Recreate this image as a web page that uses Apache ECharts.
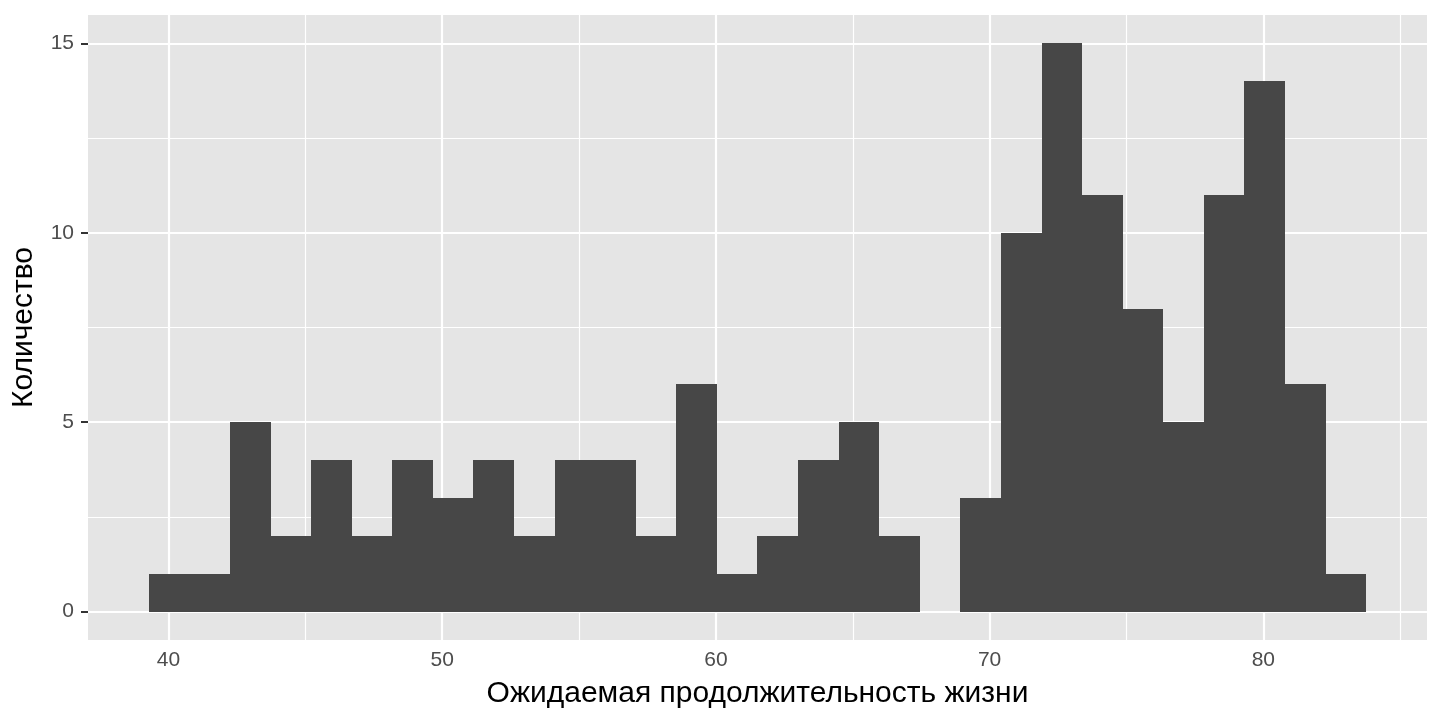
<!DOCTYPE html>
<html>
<head>
<meta charset="utf-8">
<script src="https://cdn.jsdelivr.net/npm/echarts@6/dist/echarts.min.js"></script>
<style>
html,body{margin:0;padding:0;background:#fff;}
#chart{width:1440px;height:720px;}
</style>
</head>
<body>
<div id="chart"></div>
<script>
// Histogram data (30 bins, gapminder 2007 life expectancy)
const binStart = 39.2836;
const binWidth = 1.4824;
const counts = [1, 1, 5, 2, 4, 2, 4, 3, 4, 2, 4, 4, 2, 6, 1, 2, 4, 5, 2, 0, 3, 10, 15, 11, 8, 5, 11, 14, 6, 1];
const xTicks = [40, 50, 60, 70, 80];
const xMinor = [45, 55, 65, 75, 85];
const yTicks = [0, 5, 10, 15];
const yMinor = [2.5, 7.5, 12.5];
const xTitle = 'Ожидаемая продолжительность жизни';
const yTitle = 'Количество';

const xMin = 37.06, xMax = 85.98, yMin = -0.75, yMax = 15.75;

const bins = counts.map((c, i) => [binStart + i * binWidth, binStart + (i + 1) * binWidth, c]);

function lineData(vals, key, width) {
  return vals.map(v => ({ [key]: v, lineStyle: { color: '#fff', width: width, type: 'solid' } }));
}

const chart = echarts.init(document.getElementById('chart'));
chart.setOption({
  animation: false,
  backgroundColor: '#ffffff',
  textStyle: { fontFamily: 'Liberation Sans, Arial, sans-serif' },
  grid: { left: 88, right: 13, top: 15, bottom: 80, show: true, backgroundColor: '#E5E5E5', borderWidth: 0 },
  xAxis: {
    type: 'value', min: xMin, max: xMax,
    name: xTitle, nameLocation: 'middle', nameGap: 39,
    nameTextStyle: { color: '#000', fontSize: 30, fontFamily: 'Liberation Sans' },
    axisLine: { show: false },
    splitLine: { show: false },
    axisTick: { show: true, length: 7, customValues: xTicks, lineStyle: { color: '#333', width: 2 } },
    axisLabel: { customValues: xTicks, color: '#4D4D4D', fontSize: 21, margin: 10, fontFamily: 'Liberation Sans' }
  },
  yAxis: {
    type: 'value', min: yMin, max: yMax,
    name: yTitle, nameLocation: 'middle', nameGap: 49, nameRotate: 90,
    nameTextStyle: { color: '#000', fontSize: 30, fontFamily: 'Liberation Sans' },
    axisLine: { show: false },
    splitLine: { show: false },
    axisTick: { show: true, length: 7, customValues: yTicks, lineStyle: { color: '#333', width: 2 } },
    axisLabel: { customValues: yTicks, color: '#4D4D4D', fontSize: 21, margin: 14, fontFamily: 'Liberation Sans' }
  },
  series: [
    {
      type: 'line', data: [], z: 1, silent: true,
      markLine: {
        silent: true, symbol: 'none', animation: false,
        label: { show: false },
        data: [
          ...lineData(xMinor, 'xAxis', 1.2),
          ...lineData(yMinor, 'yAxis', 1.2),
          ...lineData(xTicks, 'xAxis', 2.2),
          ...lineData(yTicks, 'yAxis', 2.2)
        ]
      }
    },
    {
      type: 'custom', z: 5,
      data: bins,
      encode: { x: [0, 1], y: 2 },
      renderItem: function (params, api) {
        const h = api.value(2);
        if (!h) return null;
        const p0 = api.coord([api.value(0), 0]);
        const p1 = api.coord([api.value(1), h]);
        const x0 = Math.round(p0[0]), x1 = Math.round(p1[0]);
        const yTop = Math.round(p1[1]), yBot = Math.round(p0[1]);
        return {
          type: 'rect',
          shape: { x: x0, y: yTop, width: x1 - x0, height: yBot - yTop },
          style: { fill: '#474747' }
        };
      }
    }
  ]
});
</script>
</body>
</html>
